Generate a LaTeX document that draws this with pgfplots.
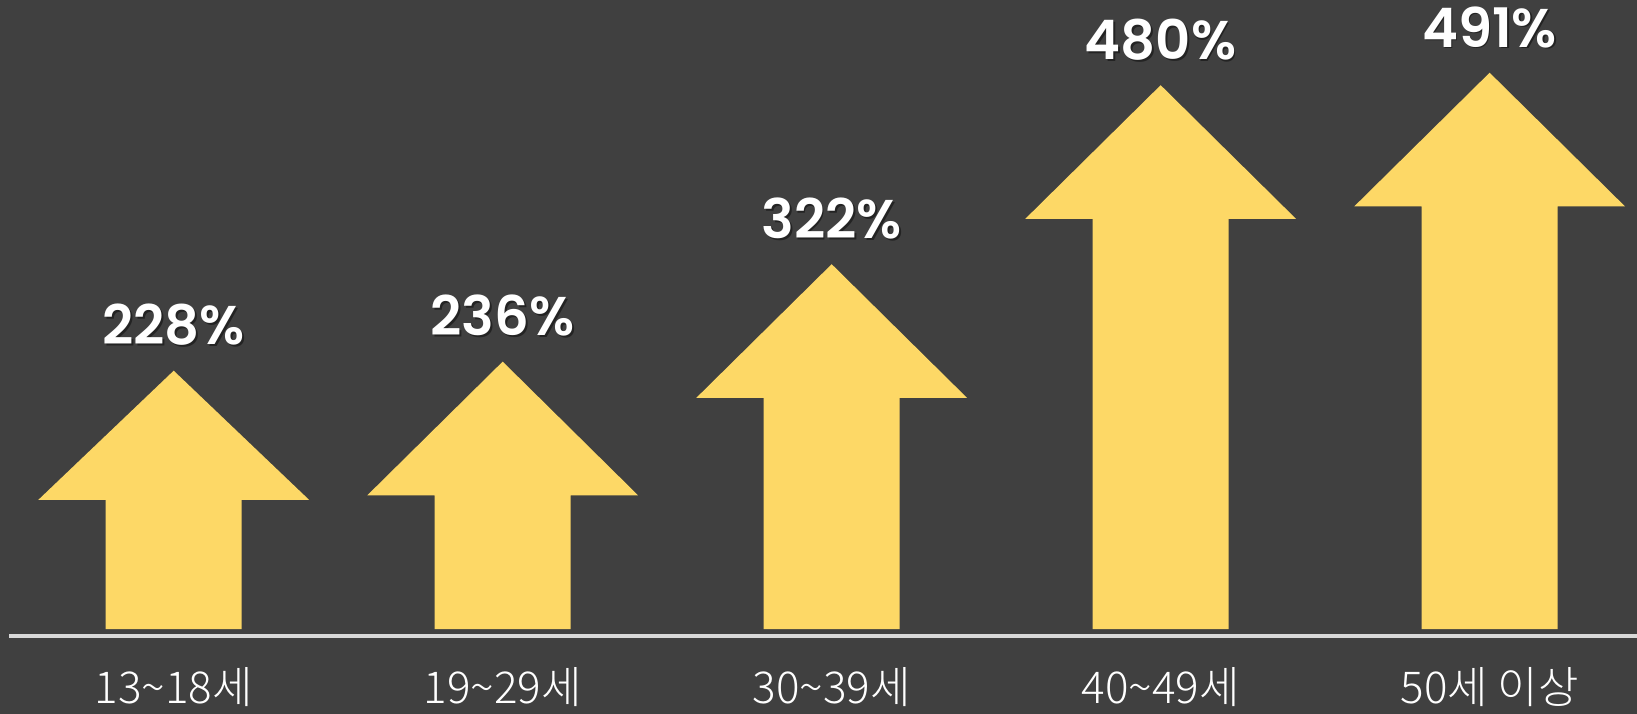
\documentclass[border=0pt]{standalone}
\usepackage{pgfplots}
\pgfplotsset{compat=1.18}
\usepackage{fontspec}
\newfontfamily\valfont{Poppins}[UprightFont=* SemiBold]
\newfontfamily\kr{Noto Sans CJK KR}[UprightFont=* Light]
\definecolor{bgc}{HTML}{404040}
\definecolor{arr}{HTML}{FDD866}
\definecolor{axl}{HTML}{D9D9D9}
\tikzset{
  shad/.style={anchor=base, text=black, opacity=0.45, font=\valfont\fontsize{15.5}{18}\selectfont, xshift=0.5pt, yshift=0.24cm},
  val/.style={anchor=base, text=white, font=\valfont\fontsize{15.5}{18}\selectfont, yshift=0.257cm},
  cat/.style={anchor=base, text=white, font=\kr\fontsize{12.5}{15}\selectfont},
}
\begin{document}
\begin{tikzpicture}
\begin{axis}[
  scale only axis, width=16.37cm, height=7.14cm,
  xmin=-0.528, xmax=4.448, ymin=-75, ymax=555.2,
  axis line style={draw=none}, xtick=\empty, ytick=\empty,
  clip=false,
]
\fill[bgc] ([xshift=-2pt,yshift=-2pt]rel axis cs:0,0) rectangle ([xshift=2pt,yshift=2pt]rel axis cs:1,1);
\draw[axl, line width=1.2pt] (axis cs:-0.5006,-6.2) -- (axis cs:4.448,-6.2);
% arrows: value = tip height
\addplot[fill=arr, draw=none] coordinates {(-0.2067,0) (0.2067,0) (0.2067,114) (0.4115,114) (0,228) (-0.4115,114) (-0.2067,114)} -- cycle;
\addplot[fill=arr, draw=none] coordinates {(0.7933,0) (1.2067,0) (1.2067,118) (1.4115,118) (1,236) (0.5885,118) (0.7933,118)} -- cycle;
\addplot[fill=arr, draw=none] coordinates {(1.7933,0) (2.2067,0) (2.2067,204) (2.4115,204) (2,322) (1.5885,204) (1.7933,204)} -- cycle;
\addplot[fill=arr, draw=none] coordinates {(2.7933,0) (3.2067,0) (3.2067,362) (3.4115,362) (3,480) (2.5885,362) (2.7933,362)} -- cycle;
\addplot[fill=arr, draw=none] coordinates {(3.7933,0) (4.2067,0) (4.2067,373) (4.4115,373) (4,491) (3.5885,373) (3.7933,373)} -- cycle;
% value labels
\node[shad] at (axis cs:0,228) {228\%};
\node[val] at (axis cs:0,228) {228\%};
\node[shad] at (axis cs:1,236) {236\%};
\node[val] at (axis cs:1,236) {236\%};
\node[shad] at (axis cs:2,322) {322\%};
\node[val] at (axis cs:2,322) {322\%};
\node[shad] at (axis cs:3,480) {480\%};
\node[val] at (axis cs:3,480) {480\%};
\node[shad] at (axis cs:4,491) {491\%};
\node[val] at (axis cs:4,491) {491\%};
% category labels
\node[cat] at (axis cs:0,-65.3) {13\textasciitilde18세};
\node[cat] at (axis cs:1,-65.3) {19\textasciitilde29세};
\node[cat] at (axis cs:2,-65.3) {30\textasciitilde39세};
\node[cat] at (axis cs:3,-65.3) {40\textasciitilde49세};
\node[cat] at (axis cs:4,-65.3) {50세 이상};
\end{axis}
\pgfresetboundingbox
\useasboundingbox (current axis.south west) rectangle (current axis.north east);
\end{tikzpicture}
\end{document}
